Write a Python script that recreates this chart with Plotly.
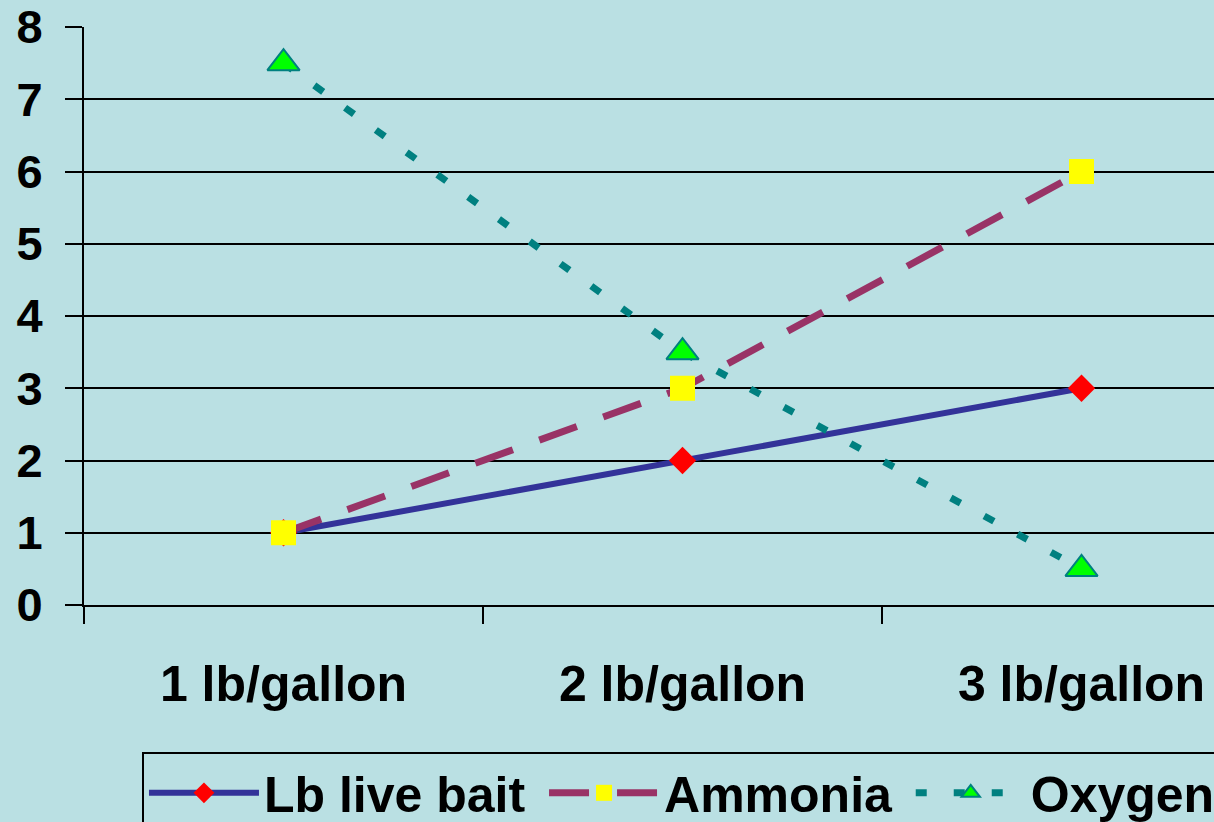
import plotly.graph_objects as go

categories = ["1 lb/gallon", "2 lb/gallon", "3 lb/gallon"]
lb_live_bait = [1, 2, 3]
ammonia = [1, 3, 6]
oxygen = [7.5, 3.5, 0.5]
series_names = ["Lb live bait\u00a0", "Ammonia\u00a0", "Oxygen"]

BG = "#BAE0E3"
FONT = "Liberation Sans, Arial, sans-serif"

fig = go.Figure()
fig.add_trace(go.Scatter(
    x=categories, y=lb_live_bait, name=series_names[0], mode="lines+markers",
    line=dict(color="#333399", width=6),
    marker=dict(symbol="diamond", size=21, color="#FF0000", line=dict(width=0)),
    cliponaxis=False))
fig.add_trace(go.Scatter(
    x=categories, y=ammonia, name=series_names[1], mode="lines+markers",
    line=dict(color="#993366", width=7, dash="40px,28px"),
    marker=dict(symbol="square", size=25, color="#FFFF00", line=dict(width=0)),
    cliponaxis=False))
fig.add_trace(go.Scatter(
    x=categories, y=oxygen, name=series_names[2], mode="lines+markers",
    line=dict(color="#008080", width=7, dash="11px,27px"),
    marker=dict(symbol="triangle-up", size=28, color="#00FF00",
                line=dict(color="#008080", width=2)),
    cliponaxis=False))

fig.update_layout(
    width=1214, height=822,
    margin=dict(l=84, r=0, t=27, b=217, autoexpand=False),
    paper_bgcolor=BG, plot_bgcolor=BG,
    font=dict(family=FONT, color="black"),
    showlegend=True,
    legend=dict(
        orientation="h", x=0.0513, y=-0.254, xanchor="left", yanchor="top",
        bordercolor="black", borderwidth=2, bgcolor=BG,
        font=dict(family=FONT, size=50, color="black", weight="bold"),
        itemwidth=110, tracegroupgap=0),
    xaxis=dict(
        type="category", range=[-0.5, 2.332], tickson="boundaries",
        showgrid=False, showline=True, linecolor="black", linewidth=2,
        ticks="outside", ticklen=17, tickwidth=2, tickcolor="black",
        tickfont=dict(family=FONT, size=50, color="black", weight="bold"),
        ticklabelstandoff=34, zeroline=False),
    yaxis=dict(
        range=[0, 8], dtick=1, tick0=0,
        showgrid=True, gridcolor="black", gridwidth=2,
        showline=True, linecolor="black", linewidth=2,
        ticks="outside", ticklen=17, tickwidth=2, tickcolor="black",
        tickfont=dict(family=FONT, size=47, color="black", weight="bold"),
        ticklabelstandoff=13, zeroline=False),
)

fig.write_html("out.html", config={"displayModeBar": False},
               post_script="document.body.style.margin='0';document.body.style.overflow='hidden';")
